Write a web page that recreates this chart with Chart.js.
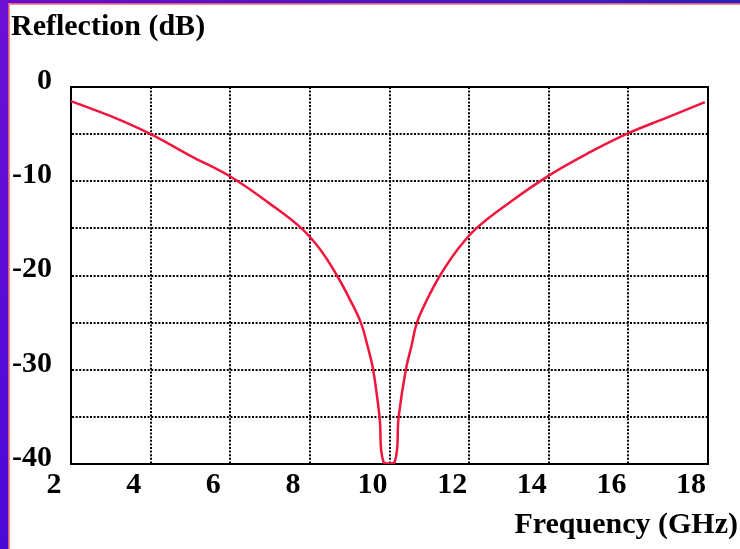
<!DOCTYPE html>
<html>
<head>
<meta charset="utf-8">
<script src="https://cdn.jsdelivr.net/npm/chart.js@4/dist/chart.umd.min.js"></script>
<style>
    html, body { margin: 0; padding: 0; background: #fff; }
    #frame { position: relative; width: 740px; height: 549px; background: #fff; overflow: hidden; }
    #barTop { position: absolute; left: 0; top: 0; width: 740px; height: 3px; background: linear-gradient(to right, #6a0ad6, #2a22c4); }
    #lineTop { position: absolute; left: 8px; top: 3px; width: 732px; height: 2px; background: linear-gradient(#d8404e, #f4b0b8); }
    #barLeft { position: absolute; left: 0; top: 0; width: 8px; height: 549px; background: linear-gradient(#6c10d4, #4a08d8); }
    #lineLeft { position: absolute; left: 8px; top: 3px; width: 2px; height: 546px; background: linear-gradient(to right, #d8404e, #f4b0b8); }
    #chartBox { position: absolute; left: 0; top: 0; width: 740px; height: 549px; }
</style>
</head>
<body>
<div id="frame">
    <div id="barTop"></div>
    <div id="barLeft"></div>
    <div id="lineTop"></div>
    <div id="lineLeft"></div>
    <div id="chartBox"><canvas id="reflectionChart"></canvas></div>
</div>
<script>
// values
const freqGHz = [2, 3, 4, 5, 6, 7, 7.79, 8.25, 8.68, 9.0, 9.28, 9.45, 9.59, 9.75, 9.85,
                 10.13, 10.23, 10.41, 10.55, 10.69, 10.95, 11.27, 11.72, 12.18, 13, 14, 15, 16, 17, 17.92];
const reflectionDb = [-1.5, -3.1, -5, -7.3, -9.5, -12.4, -15, -17.2, -20, -22.5, -25, -27.5, -30, -35, -39.8,
                      -39.8, -35, -30, -27.5, -25, -22.5, -20, -17.2, -15, -12.3, -9.4, -7, -4.9, -3.2, -1.6];
const xTickLabels = ['2', '4', '6', '8', '10', '12', '14', '16', '18'];
const yTickLabels = ['0', '-10', '-20', '-30', '-40'];

const serif = 'Liberation Serif, Times New Roman, serif';
const bigFont = { family: serif, size: 30, weight: 'bold' };

new Chart(document.getElementById('reflectionChart'), {
    type: 'line',
    data: {
        datasets: [{
            data: freqGHz.map((f, i) => ({ x: f, y: reflectionDb[i] })),
            borderColor: '#f0163e',
            borderWidth: 2.5,
            pointRadius: 0,
            tension: 0.4,
            fill: false,
        }]
    },
    options: {
        responsive: true,
        maintainAspectRatio: false,
        animation: false,
        devicePixelRatio: 1,
        layout: { padding: { left: 11, right: 2, top: 0, bottom: 0 } },
        plugins: {
            legend: { display: false },
            tooltip: { enabled: false },
            title: {
                display: true,
                text: 'Reflection (dB)',
                align: 'start',
                color: '#000',
                font: bigFont,
                padding: { top: 9, bottom: 42 },
            },
            subtitle: {
                display: true,
                text: 'Frequency (GHz)',
                position: 'bottom',
                align: 'end',
                color: '#000',
                font: bigFont,
                padding: { top: 1, bottom: 6 },
            }
        },
        scales: {
            x: {
                type: 'linear',
                min: 2,
                max: 18,
                ticks: {
                    stepSize: 2,
                    color: '#000',
                    font: bigFont,
                    padding: 3,
                    labelOffset: -17,
                    maxRotation: 0,
                    callback: v => xTickLabels.includes(String(v)) ? String(v) : '',
                },
                grid: { color: '#000', lineWidth: 2, drawTicks: false },
                border: { color: '#000', width: 2, dash: [2, 1.6] },
            },
            y: {
                type: 'linear',
                min: -40,
                max: 0,
                ticks: {
                    stepSize: 5,
                    color: '#000',
                    font: bigFont,
                    padding: 19,
                    labelOffset: -6,
                    callback: v => yTickLabels.includes(String(v)) ? String(v) : '',
                },
                grid: { color: '#000', lineWidth: 2, drawTicks: false },
                border: { color: '#000', width: 2, dash: [2, 1.6] },
                afterFit: s => { s.width = 60; },
            },
            x2: {
                type: 'linear',
                position: 'top',
                min: 2,
                max: 18,
                ticks: { display: false },
                grid: { display: false, drawTicks: false },
                border: { color: '#000', width: 2 },
                afterFit: s => { s.height = 0; },
            },
            y2: {
                type: 'linear',
                position: 'right',
                min: -40,
                max: 0,
                ticks: { display: false },
                grid: { display: false, drawTicks: false },
                border: { color: '#000', width: 2 },
                afterFit: s => { s.width = 30; },
            }
        }
    }
});
</script>
</body>
</html>
